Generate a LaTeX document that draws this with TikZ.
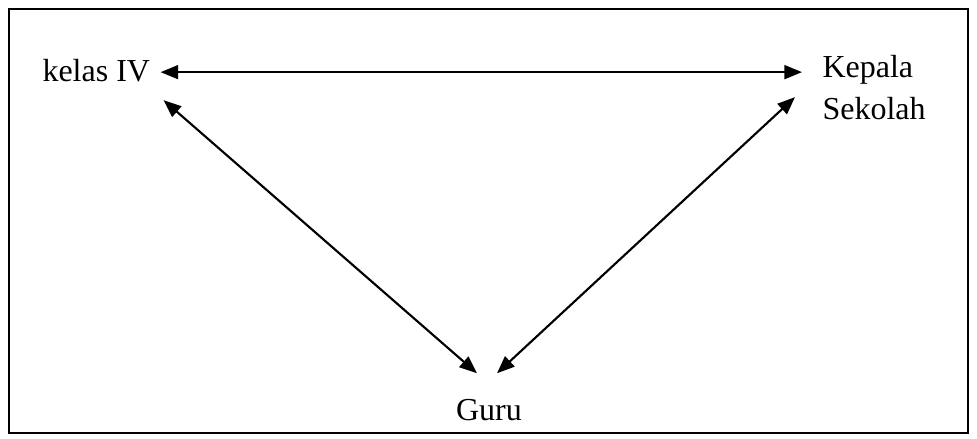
\documentclass[tikz,border=0pt]{standalone}
\usepackage{fontspec}
\setmainfont{Liberation Serif}
\usetikzlibrary{arrows.meta,calc}
\begin{document}
\begin{tikzpicture}[x=0.375pt,y=-0.375pt,
  lbl/.style={inner sep=0pt,font=\fontsize{12}{15.75}\selectfont},
  arr/.style={{Triangle[length=6.6pt,width=5.2pt]}-{Triangle[length=6.6pt,width=5.2pt]},line width=0.8pt}]
\useasboundingbox (0,0) rectangle (977,439);
\draw[line width=0.75pt] (9,9) rectangle (968,433);
\node[lbl,anchor=base west] (k) at (42,81) {kelas IV};
\node[lbl,anchor=base west,align=left] (ks) at (822,120) {Kepala\\Sekolah};
\node[lbl,anchor=base] (g) at (489,420) {Guru};
\draw[arr] ($(k.east)+(10,2)$) coordinate (kr) -- ($(ks.west |- kr)+(-20,0)$);
\draw[arr] ($(k.east)+(13,30)$) -- ($(g.north)+(-12,-25)$);
\draw[arr] ($(g.north)+(8,-25)$) -- ($(ks.west |- kr)+(-27,25)$);
\end{tikzpicture}
\end{document}
